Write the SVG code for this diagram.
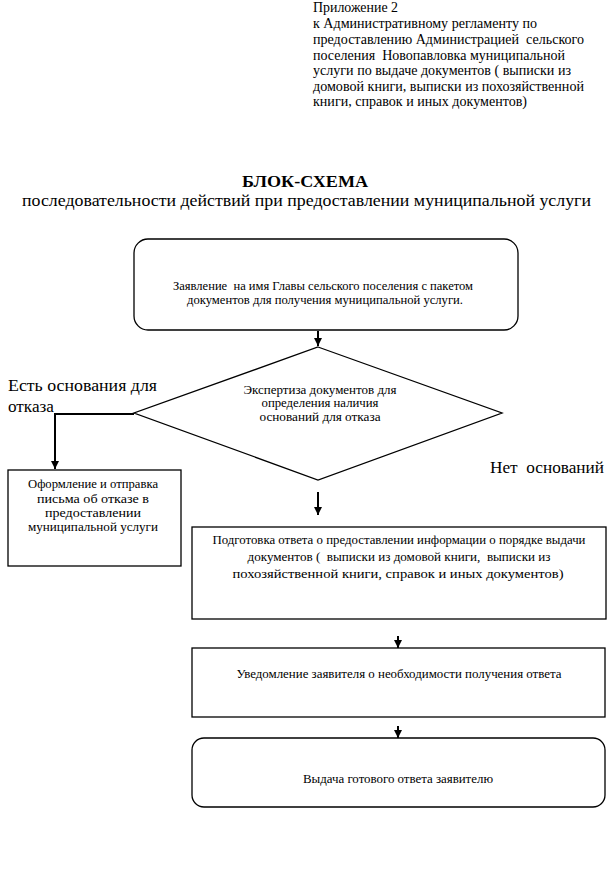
<svg xmlns="http://www.w3.org/2000/svg" width="613" height="874" viewBox="0 0 613 874" font-family="'Liberation Serif', 'DejaVu Serif', serif">
<defs>
<style>
text{font-family:'Liberation Serif','DejaVu Serif',serif;fill:#000}
.hd{font-size:14.5px}
.lb{font-size:16px}
.nt{font-size:12px;text-anchor:middle}
.sh{fill:#fff;stroke:#000;stroke-width:1.3}
.cn{fill:none;stroke:#000;stroke-width:2}
</style>
<marker id="ah" viewBox="0 0 10 10" refX="10" refY="5" markerWidth="4" markerHeight="4" orient="auto" markerUnits="strokeWidth">
<path d="M0,0 L10,5 L0,10 z" fill="#000"/>
</marker>
</defs>
<rect width="613" height="874" fill="#fff"/>
<g id="header">
<text class="hd" x="313" y="12" textLength="85" lengthAdjust="spacingAndGlyphs">Приложение 2</text>
<text class="hd" x="313" y="28" textLength="224" lengthAdjust="spacingAndGlyphs">к Административному регламенту по</text>
<text class="hd" x="313" y="44" textLength="271" lengthAdjust="spacingAndGlyphs" xml:space="preserve">предоставлению Администрацией  сельского</text>
<text class="hd" x="313" y="60" textLength="252" lengthAdjust="spacingAndGlyphs" xml:space="preserve">поселения  Новопавловка муниципальной</text>
<text class="hd" x="313" y="75" textLength="258" lengthAdjust="spacingAndGlyphs">услуги по выдаче документов ( выписки из</text>
<text class="hd" x="313" y="91" textLength="271" lengthAdjust="spacingAndGlyphs">домовой книги, выписки из похозяйственной</text>
<text class="hd" x="313" y="106" textLength="214" lengthAdjust="spacingAndGlyphs">книги, справок и иных документов)</text>
</g>
<g id="title">
<text x="242" y="187" font-size="17" font-weight="bold" textLength="126" lengthAdjust="spacingAndGlyphs">БЛОК-СХЕМА</text>
<text x="22" y="206" font-size="16" textLength="569" lengthAdjust="spacingAndGlyphs">последовательности действий при предоставлении муниципальной услуги</text>
</g>
<g id="connectors">
<line class="cn" x1="318" y1="331" x2="318" y2="346" marker-end="url(#ah)"/>
<polyline class="cn" points="134,414 55,414 55,469" marker-end="url(#ah)"/>
<line class="cn" x1="318" y1="492" x2="318" y2="515" marker-end="url(#ah)"/>
<line class="cn" x1="398" y1="636" x2="398" y2="648" marker-end="url(#ah)"/>
<line class="cn" x1="398" y1="726" x2="398" y2="738" marker-end="url(#ah)"/>
</g>
<g id="n1">
<rect class="sh" x="134" y="239" width="384" height="91" rx="14" ry="14"/>
<text class="nt" x="323" y="290" textLength="300" lengthAdjust="spacingAndGlyphs" xml:space="preserve">Заявление  на имя Главы сельского поселения с пакетом</text>
<text class="nt" x="325" y="304" textLength="276" lengthAdjust="spacingAndGlyphs">документов для получения муниципальной услуги.</text>
</g>
<g id="n2">
<polygon class="sh" points="318,347 502,413 318,480 134,413"/>
<text class="nt" x="320" y="394" textLength="153" lengthAdjust="spacingAndGlyphs">Экспертиза документов для</text>
<text class="nt" x="320" y="407" textLength="117" lengthAdjust="spacingAndGlyphs">определения наличия</text>
<text class="nt" x="320" y="421" textLength="121" lengthAdjust="spacingAndGlyphs">оснований для отказа</text>
</g>
<g id="lbl-yes">
<text class="lb" x="8" y="391" textLength="149" lengthAdjust="spacingAndGlyphs">Есть основания для</text>
<text class="lb" x="8" y="412" textLength="46" lengthAdjust="spacingAndGlyphs">отказа</text>
</g>
<g id="lbl-no">
<text class="lb" x="490" y="473" textLength="114" lengthAdjust="spacingAndGlyphs" xml:space="preserve">Нет  оснований</text>
</g>
<g id="n3">
<rect class="sh" x="8" y="470" width="173" height="96"/>
<text class="nt" x="93" y="488" font-size="12.5" textLength="130" lengthAdjust="spacingAndGlyphs">Оформление и отправка</text>
<text class="nt" x="93" y="503" font-size="12.5" textLength="112" lengthAdjust="spacingAndGlyphs">письма об отказе в</text>
<text class="nt" x="93" y="517" font-size="12.5" textLength="96" lengthAdjust="spacingAndGlyphs">предоставлении</text>
<text class="nt" x="93" y="531" font-size="12.5" textLength="130" lengthAdjust="spacingAndGlyphs">муниципальной услуги</text>
</g>
<g id="n4">
<rect class="sh" x="192" y="527" width="414" height="92"/>
<text class="nt" x="399" y="544" textLength="373" lengthAdjust="spacingAndGlyphs">Подготовка ответа о предоставлении информации о порядке выдачи</text>
<text class="nt" x="399" y="561" textLength="303" lengthAdjust="spacingAndGlyphs" xml:space="preserve">документов (  выписки из домовой книги,  выписки из</text>
<text class="nt" x="398" y="578" textLength="331" lengthAdjust="spacingAndGlyphs">похозяйственной книги, справок и иных документов)</text>
</g>
<g id="n5">
<rect class="sh" x="192" y="648" width="413" height="69"/>
<text class="nt" x="399" y="678" textLength="325" lengthAdjust="spacingAndGlyphs">Уведомление заявителя о необходимости получения ответа</text>
</g>
<g id="n6">
<rect class="sh" x="192" y="738" width="413" height="69" rx="12" ry="12"/>
<text class="nt" x="398" y="783" textLength="190" lengthAdjust="spacingAndGlyphs">Выдача готового ответа заявителю</text>
</g>
</svg>
